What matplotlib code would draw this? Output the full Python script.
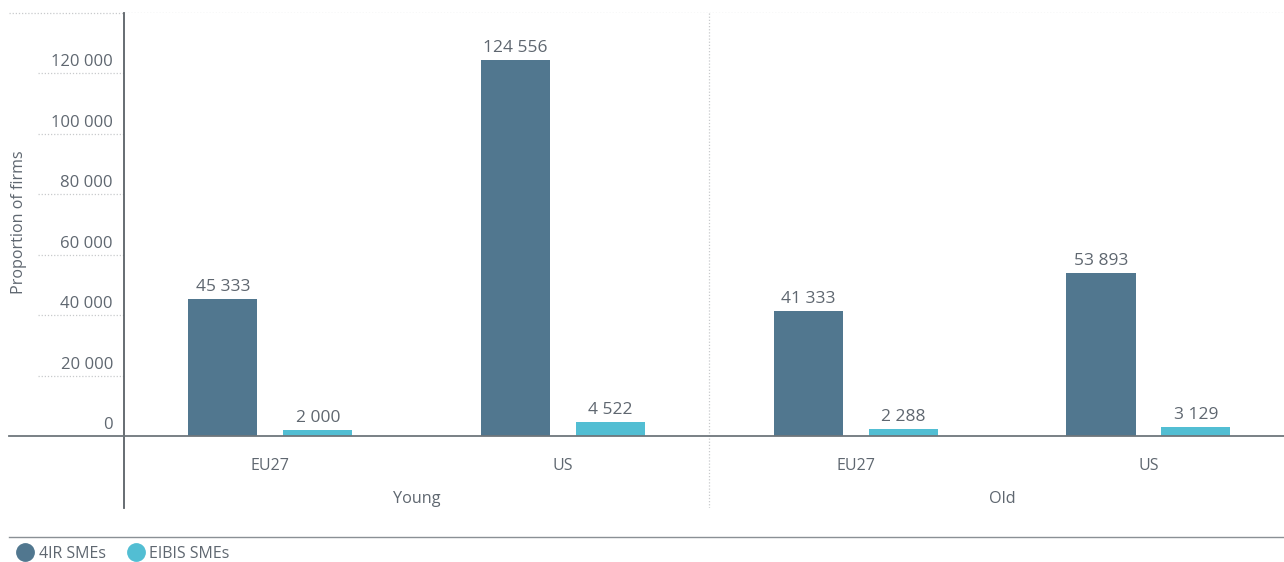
import matplotlib
matplotlib.use("Agg")
import matplotlib.pyplot as plt
from matplotlib.lines import Line2D
from matplotlib.transforms import blended_transform_factory
import numpy as np

plt.rcParams['font.family'] = ['Open Sans', 'DejaVu Sans']

groups = ["Young", "Old"]
regions = ["EU27", "US", "EU27", "US"]
series_names = ["4IR SMEs", "EIBIS SMEs"]
sme_4ir = [45333, 124556, 41333, 53893]
sme_eibis = [2000, 4522, 2288, 3129]
y_ticks = [0, 20000, 40000, 60000, 80000, 100000, 120000, 140000]

c_4ir = "#51778f"
c_eibis = "#52bed3"
txt = "#5f6770"
grid_c = "#c8cacc"

W, H = 1284, 562
fig = plt.figure(figsize=(W / 100, H / 100), dpi=100)

def fx(px):
    return px / W

def fy(py):
    return 1 - py / H

def fmt(v):
    return f"{v:,}".replace(",", " ")

ax_left, ax_right = 124, 1284
ax_top, ax_bottom = 13, 508
zero_px = 436
ymax = 140000
per_px = ymax / (zero_px - ax_top)
ymin = -(ax_bottom - zero_px) * per_px
group_px = 292.7

ax = fig.add_axes([fx(ax_left), fy(ax_bottom), fx(ax_right - ax_left),
                   (ax_bottom - ax_top) / H])
ax.set_xlim(0, (ax_right - ax_left) / group_px)
ax.set_ylim(ymin, ymax)
for s in ax.spines.values():
    s.set_visible(False)
ax.set_xticks([])
ax.set_yticks([])

# horizontal gridlines extending to the left of the plot
bt = blended_transform_factory(fig.transFigure, ax.transData)
for v in y_ticks:
    if v == 0:
        fig.add_artist(Line2D([fx(9), 1], [0, 0], transform=bt, color="#6e767c",
                              lw=1.3, zorder=1))
    else:
        start = fx(9) if v == ymax else fx(38)
        fig.add_artist(Line2D([start, 1], [v, v], transform=bt, color=grid_c,
                              lw=0.9, ls=(0, (1, 1.5)), zorder=0))
    if v < ymax:
        fig.text(fx(113), v + 3 * per_px, fmt(v), transform=bt,
                 ha="right", va="bottom", fontsize=12, color=txt)

# left axis line
ax.axvline(0, color="#5a6167", lw=1.3, clip_on=False)

# group separator
ax.axvline(2, color=grid_c, lw=0.9, ls=(0, (1, 1.5)))

x = np.arange(len(regions)) + 0.5
bw = 0.236
off = 0.162
b1 = ax.bar(x - off, sme_4ir, bw, color=c_4ir, zorder=2)
b2 = ax.bar(x + off, sme_eibis, bw, color=c_eibis, zorder=2)
for bars, vals in ((b1, sme_4ir), (b2, sme_eibis)):
    for b, v in zip(bars, vals):
        ax.text(b.get_x() + b.get_width() / 2, v + 4 * per_px, fmt(v),
                ha="center", va="bottom", fontsize=12.5, color=txt)

for xi, r in zip(x, regions):
    ax.text(xi, -(466 - zero_px) * per_px, r, ha="center", va="center",
            fontsize=11.5, color=txt)
for gi, g in enumerate(groups):
    ax.text(1 + 2 * gi, -(499 - zero_px) * per_px, g, ha="center",
            va="center", fontsize=11.7, color=txt)

fig.text(fx(19), fy(222), "Proportion of firms", rotation=90, ha="center",
         va="center", fontsize=11.6, color=txt)

# legend
fig.add_artist(Line2D([fx(9), 1], [fy(537), fy(537)], color="#8a9095", lw=1))
handles = [Line2D([], [], marker="o", ls="", markersize=12.5, color=c)
           for c in (c_4ir, c_eibis)]
fig.legend(handles, series_names, loc="center left",
           bbox_to_anchor=(fx(17), fy(554)), ncol=2, frameon=False,
           fontsize=11.5, labelcolor=txt, handletextpad=0.35,
           columnspacing=1.4, borderaxespad=0, borderpad=0, handlelength=1.0)

fig.savefig("out.png", dpi=100, facecolor="white")
